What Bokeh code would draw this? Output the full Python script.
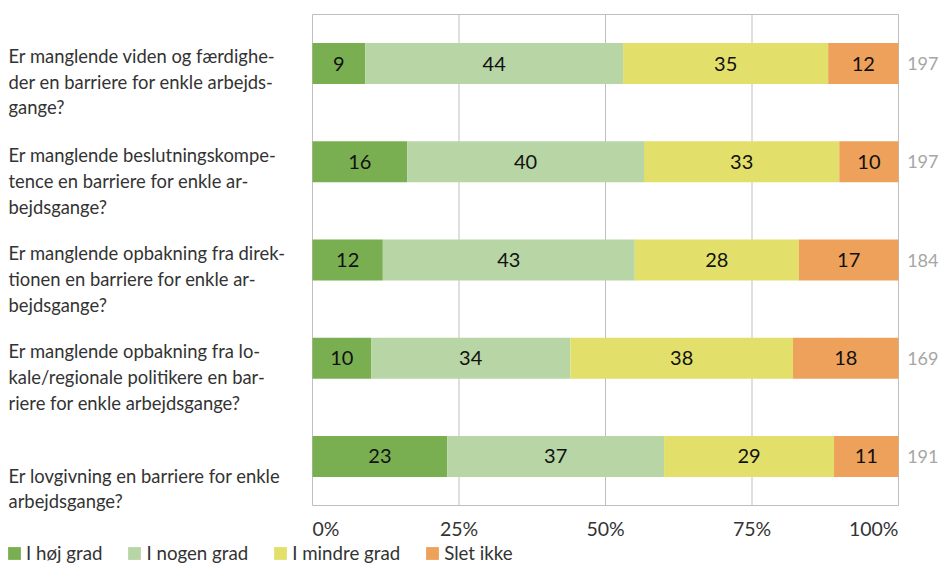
import numpy as np
from bokeh.plotting import figure
from bokeh.models import Range1d, Legend, LegendItem
from bokeh.core.properties import value
from bokeh.embed import file_html
from bokeh.resources import INLINE

# ---------------- data ----------------
questions = [
    "Er manglende viden og færdighe-\nder en barriere for enkle arbejds-\ngange?",
    "Er manglende beslutningskompe-\ntence en barriere for enkle ar-\nbejdsgange?",
    "Er manglende opbakning fra direk-\ntionen en barriere for enkle ar-\nbejdsgange?",
    "Er manglende opbakning fra lo-\nkale/regionale politikere en bar-\nriere for enkle arbejdsgange?",
    "Er lovgivning en barriere for enkle\narbejdsgange?",
]
series_names = ["I høj grad", "I nogen grad", "I mindre grad", "Slet ikke"]
hoej_grad = [9, 16, 12, 10, 23]
nogen_grad = [44, 40, 43, 34, 37]
mindre_grad = [35, 33, 28, 38, 29]
slet_ikke = [12, 10, 17, 18, 11]
n_respondents = [197, 197, 184, 169, 191]
tick_values = [0, 25, 50, 75, 100]
tick_labels = ["0%", "25%", "50%", "75%", "100%"]

# ---------------- style / layout ----------------
colors = ["#7AAF51", "#B7D5A5", "#E2E06B", "#EEA15A"]
grid_color = "#BFBFBF"
text_color = "#333333"
FONT = "Lato"

W, H = 940, 564
X0, X1, Y0, Y1 = 312, 898, 14, 505   # plot box edges in canvas px
nrows = len(questions)
sx = (X1 - X0) / 100.0
sy = (Y1 - Y0) / nrows

p = figure(width=W, height=H, output_backend="svg", toolbar_location=None,
           x_range=Range1d(-X0 / sx, (W - X0) / sx),
           y_range=Range1d((H - Y0) / sy, -Y0 / sy),
           x_axis_location=None, y_axis_location=None,
           min_border=0, min_border_left=0, min_border_right=0,
           min_border_top=0, min_border_bottom=0)
p.outline_line_color = None
p.grid.visible = False
p.background_fill_color = "white"
p.border_fill_color = "white"

# vertical grid lines and plot box
inner_ticks = tick_values[1:-1]
p.segment(x0=inner_ticks, y0=[0] * len(inner_ticks), x1=inner_ticks,
          y1=[nrows] * len(inner_ticks), line_color=grid_color, line_width=1)
p.quad(left=[tick_values[0]], right=[tick_values[-1]], top=[0], bottom=[nrows],
       fill_color=None, line_color=grid_color, line_width=1)

series = [hoej_grad, nogen_grad, mindre_grad, slet_ikke]
data = np.array(series, dtype=float)
pct = data / data.sum(axis=0) * 100.0
right = np.cumsum(pct, axis=0)
left = right - pct
ypos = np.arange(nrows) + 0.5
bar_h = 41 / sy

items = []
for k, name in enumerate(series_names):
    r = p.hbar(y=ypos, left=left[k], right=right[k], height=bar_h,
               fill_color=colors[k], line_color=None)
    items.append(LegendItem(label=name, renderers=[r]))
    p.text(x=(left[k] + right[k]) / 2, y=ypos, text=[str(v) for v in series[k]],
           text_align="center", text_baseline="middle",
           text_font=value(FONT), text_font_size="20px", text_color="#111111")

# question labels (left)
label_offsets_px = [18, 19, 19, 19, 32]
p.text(x=[(8 - X0) / sx] * nrows,
       y=[ypos[i] + label_offsets_px[i] / sy for i in range(nrows)],
       text=questions, text_align="left", text_baseline="middle",
       text_font=value(FONT), text_font_size="18.4px", text_color=text_color,
       text_line_height=1.17)

# N labels (right)
p.text(x=[(938 - X0) / sx] * nrows, y=ypos, text=[str(n) for n in n_respondents],
       text_align="right", text_baseline="middle",
       text_font=value(FONT), text_font_size="18px", text_color="#A6A6A6")

# x tick labels
aligns = ["left"] + ["center"] * (len(tick_values) - 2) + ["right"]
for tv, tl, al in zip(tick_values, tick_labels, aligns):
    p.text(x=[tv], y=[nrows + (528 - Y1) / sy], text=[tl],
           text_align=al, text_baseline="middle",
           text_font=value(FONT), text_font_size="19.5px", text_color=text_color)

legend = Legend(items=items, orientation="horizontal", location=(6, 0),
                glyph_width=16, glyph_height=16, label_standoff=4, spacing=24,
                padding=0, margin=0, border_line_color=None, background_fill_alpha=0,
                label_text_font=FONT, label_text_font_size="18.7px",
                label_text_color=text_color, label_height=18)
p.add_layout(legend)

open("out.html", "w").write(file_html(p, INLINE))
